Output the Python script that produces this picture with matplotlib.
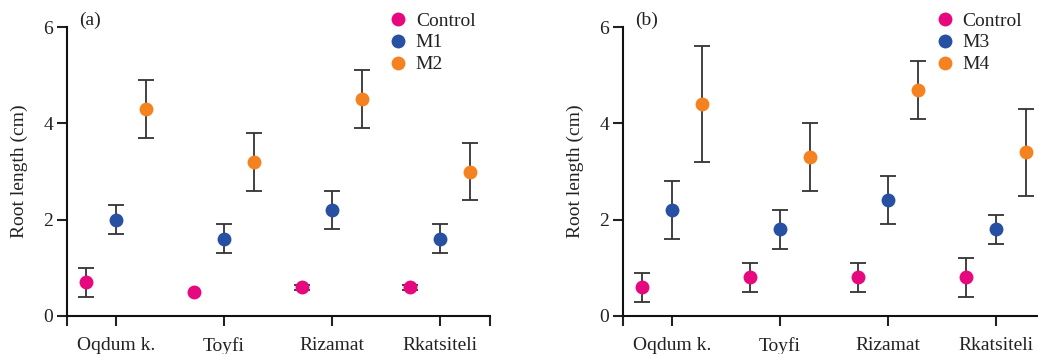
import matplotlib
matplotlib.use("Agg")
import matplotlib.pyplot as plt
import numpy as np

plt.rcParams['font.family'] = ['Liberation Serif', 'DejaVu Serif']

cultivars = ["Oqdum k.", "Toyfi", "Rizamat", "Rkatsiteli"]

# Panel (a)
a_labels = ["Control", "M1", "M2"]
a_control = [0.7, 0.5, 0.6, 0.6]
a_control_err = [0.3, np.nan, 0.05, 0.05]   # no visible error bar for Toyfi
a_m1 = [2.0, 1.6, 2.2, 1.6]
a_m1_err = [0.3, 0.3, 0.4, 0.3]
a_m2 = [4.3, 3.2, 4.5, 3.0]
a_m2_err = [0.6, 0.6, 0.6, 0.6]

# Panel (b)
b_labels = ["Control", "M3", "M4"]
b_control = [0.6, 0.8, 0.8, 0.8]
b_control_err = [0.3, 0.3, 0.3, 0.4]
b_m3 = [2.2, 1.8, 2.4, 1.8]
b_m3_err = [0.6, 0.4, 0.5, 0.3]
b_m4 = [4.4, 3.3, 4.7, 3.4]
b_m4_err = [1.2, 0.7, 0.6, 0.9]

colors = ["#E6087E", "#2850A2", "#F58220"]
offsets = [-0.275, 0.0, 0.275]

W, H = 1038, 354
fig = plt.figure(figsize=(W / 100, H / 100), dpi=100)

def px_axes(left, right, bottom_px, top_px):
    return fig.add_axes([left / W, (H - bottom_px) / H, (right - left) / W, (bottom_px - top_px) / H])

def draw(ax, labels, series, errs, tag, leg_x):
    x = np.arange(len(cultivars))
    for i, (vals, err) in enumerate(zip(series, errs)):
        ax.errorbar(x + offsets[i], vals, yerr=err, fmt='none', ecolor='#333333',
                    elinewidth=1.3, capsize=5.5, capthick=1.3, zorder=2, clip_on=False)
        ax.plot(x + offsets[i], vals, 'o', color=colors[i], markersize=10,
                markeredgewidth=0, label=labels[i], zorder=3, clip_on=False)
    ax.set_xlim(-0.454, 3.463)
    ax.set_ylim(0, 6)
    ax.set_yticks([0, 2, 4, 6])
    ax.set_xticks(x)
    ax.set_xticklabels(cultivars)
    ax.set_xticks([-0.454, 3.463], minor=True)
    ax.tick_params(axis='x', which='both', length=7, width=1.5, direction='out',
                   labelsize=14, pad=8, colors='#222222')
    ax.tick_params(axis='y', length=7, width=1.5, direction='out', labelsize=14,
                   pad=3, colors='#222222')
    for s in ['top', 'right']:
        ax.spines[s].set_visible(False)
    for s in ['left', 'bottom']:
        ax.spines[s].set_linewidth(1.5)
        ax.spines[s].set_color('#111111')
    ax.set_ylabel("Root length (cm)", fontsize=14, labelpad=11, color='#222222')
    ax.text(0.028, 1.022, tag, transform=ax.transAxes, fontsize=14,
            va='center', ha='left', color='#222222')
    leg = ax.legend(loc='upper left', bbox_to_anchor=(leg_x, 1.052),
                    frameon=False, fontsize=14, handlelength=0.8,
                    handletextpad=0.5, labelspacing=0.22, borderaxespad=0,
                    borderpad=0)
    for t in leg.get_texts():
        t.set_color('#222222')

ax1 = px_axes(67, 490, 316, 27)
draw(ax1, a_labels, [a_control, a_m1, a_m2], [a_control_err, a_m1_err, a_m2_err], "(a)", 0.765)

ax2 = px_axes(623, 1046, 316, 27)
draw(ax2, b_labels, [b_control, b_m3, b_m4], [b_control_err, b_m3_err, b_m4_err], "(b)", 0.742)

fig.savefig("out.png", dpi=100)
